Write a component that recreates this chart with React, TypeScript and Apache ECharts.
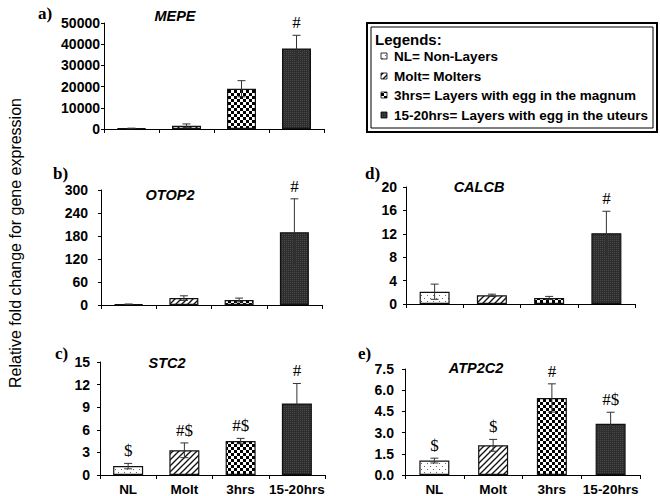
import React, { useEffect, useRef } from 'react';
import * as echarts from 'echarts';

const categories = ['NL', 'Molt', '3hrs', '15-20hrs'];

const mepeMean = [300, 1500, 19000, 38000];
const mepeErr = [100, 900, 3800, 6200];
const mepeMarks = ['', '', '', '#'];

const otop2Mean = [2, 18, 13, 190];
const otop2Err = [0.5, 6, 5, 87];
const otop2Marks = ['', '', '', '#'];

const calcbMean = [2.1, 1.48, 1.03, 12.1];
const calcbErr = [1.3, 0.2, 0.27, 3.75];
const calcbMarks = ['', '', '', '#'];

const stc2Mean = [1.18, 3.28, 4.5, 9.5];
const stc2Err = [0.36, 0.98, 0.36, 2.65];
const stc2Marks = ['$', '#$', '#$', '#'];

const atp2c2Mean = [1.02, 2.1, 5.45, 3.62];
const atp2c2Err = [0.17, 0.42, 1.0, 0.82];
const atp2c2Marks = ['$', '$', '#', '#$'];

const legendLabels = [
  'NL= Non-Layers',
  'Molt= Molters',
  '3hrs= Layers with egg in the magnum',
  '15-20hrs= Layers with egg in the uteurs',
];

const yTitle = 'Relative fold change for gene expression';

const SANS = '"Liberation Sans", Arial, sans-serif';
const SERIF = '"Liberation Serif", "Times New Roman", serif';

function makeTile(size: number, draw: (ctx: CanvasRenderingContext2D) => void) {
  const c = document.createElement('canvas');
  c.width = size;
  c.height = size;
  const ctx = c.getContext('2d') as CanvasRenderingContext2D;
  draw(ctx);
  return c;
}

function makePatterns() {
  const dots = makeTile(6, (ctx) => {
    ctx.fillStyle = '#ffffff';
    ctx.fillRect(0, 0, 6, 6);
    ctx.fillStyle = '#666666';
    ctx.fillRect(1, 1, 1, 1);
    ctx.fillRect(4, 4, 1, 1);
  });
  const hatch = makeTile(6, (ctx) => {
    ctx.fillStyle = '#ffffff';
    ctx.fillRect(0, 0, 6, 6);
    ctx.strokeStyle = '#111111';
    ctx.lineWidth = 1.3;
    for (const o of [-6, 0, 6]) {
      ctx.beginPath();
      ctx.moveTo(o - 1, 7);
      ctx.lineTo(o + 7, -1);
      ctx.stroke();
    }
  });
  const checker = makeTile(6, (ctx) => {
    ctx.fillStyle = '#ffffff';
    ctx.fillRect(0, 0, 6, 6);
    ctx.fillStyle = '#000000';
    ctx.fillRect(0, 0, 3, 3);
    ctx.fillRect(3, 3, 3, 3);
  });
  const dark = makeTile(2, (ctx) => {
    ctx.fillStyle = '#2e2e2e';
    ctx.fillRect(0, 0, 2, 2);
    ctx.fillStyle = '#4a4a4a';
    ctx.fillRect(0, 0, 1, 1);
  });
  return [dots, hatch, checker, dark].map((img) => ({
    image: img,
    repeat: 'repeat',
    imageWidth: img.width,
    imageHeight: img.height,
  }));
}

export default function App() {
  const ref = useRef<HTMLDivElement>(null);

  useEffect(() => {
    if (!ref.current) return;
    const chart = echarts.init(ref.current, undefined, { renderer: 'svg' });
    const patterns = makePatterns();

    const panels = [
      { label: 'a)', gene: 'MEPE', mean: mepeMean, err: mepeErr, marks: mepeMarks, max: 50000, interval: 10000, decimals: 0,
        grid: { left: 104, top: 23, width: 220, height: 106 }, margin: 4, showX: false, labelPos: [38, 14], titlePos: [175, 16], barWidth: 29 },
      { label: 'b)', gene: 'OTOP2', mean: otop2Mean, err: otop2Err, marks: otop2Marks, max: 300, interval: 60, decimals: 0,
        grid: { left: 101, top: 190, width: 221, height: 115 }, margin: 13, showX: false, labelPos: [53, 174], titlePos: [170, 195], barWidth: 29 },
      { label: 'c)', gene: 'STC2', mean: stc2Mean, err: stc2Err, marks: stc2Marks, max: 15, interval: 3, decimals: 0,
        grid: { left: 100, top: 362, width: 225, height: 115 }, margin: 10, showX: true, labelPos: [55, 354], titlePos: [167, 363], barWidth: 30 },
      { label: 'd)', gene: 'CALCB', mean: calcbMean, err: calcbErr, marks: calcbMarks, max: 20, interval: 4, decimals: 0,
        grid: { left: 406, top: 187, width: 229, height: 117 }, margin: 9, showX: false, labelPos: [365, 174], titlePos: [479, 187], barWidth: 30 },
      { label: 'e)', gene: 'ATP2C2', mean: atp2c2Mean, err: atp2c2Err, marks: atp2c2Marks, max: 7.5, interval: 1.5, decimals: 1,
        grid: { left: 405, top: 369, width: 235, height: 107 }, margin: 11, showX: true, labelPos: [358, 354], titlePos: [476, 368], barWidth: 30 },
    ];

    const grid: any[] = [];
    const xAxis: any[] = [];
    const yAxis: any[] = [];
    const series: any[] = [];
    const graphics: any[] = [];

    panels.forEach((p, i) => {
      grid.push({ ...p.grid, containLabel: false });
      xAxis.push({
        type: 'category',
        gridIndex: i,
        data: categories,
        axisLine: { show: true, lineStyle: { color: '#000', width: 1 } },
        axisTick: { show: true, length: 4, interval: 0, lineStyle: { color: '#000' } },
        axisLabel: {
          show: p.showX,
          interval: 0,
          color: '#000',
          fontFamily: SANS,
          fontWeight: 'bold',
          fontSize: 13.5,
          margin: 7,
        },
        splitLine: { show: false },
      });
      yAxis.push({
        type: 'value',
        gridIndex: i,
        min: 0,
        max: p.max,
        interval: p.interval,
        axisLine: { show: true, lineStyle: { color: '#000', width: 1 } },
        axisTick: { show: true, length: 3, lineStyle: { color: '#000' } },
        splitLine: { show: false },
        axisLabel: {
          color: '#000',
          fontFamily: SANS,
          fontWeight: 'bold',
          fontSize: 14,
          margin: p.margin,
          formatter: (v: number) => v.toFixed(p.decimals),
        },
      });
      series.push({
        type: 'bar',
        xAxisIndex: i,
        yAxisIndex: i,
        barWidth: p.barWidth,
        data: p.mean.map((v, j) => ({ value: v, itemStyle: { color: patterns[j] } })),
        itemStyle: { borderColor: '#111', borderWidth: 1.2 },
        emphasis: { disabled: true },
        z: 2,
      });
      series.push({
        type: 'custom',
        xAxisIndex: i,
        yAxisIndex: i,
        z: 5,
        silent: true,
        data: p.mean.map((m, j) => [j, m, p.err[j]]),
        encode: { x: 0, y: 1 },
        renderItem: (params: any, api: any) => {
          const j = api.value(0);
          const m = api.value(1);
          const e = api.value(2);
          const top = api.coord([j, m + e]);
          const low = api.coord([j, Math.max(0, m - e)]);
          const x = top[0];
          const children: any[] = [
            { type: 'line', shape: { x1: x, y1: top[1], x2: x, y2: low[1] }, style: { stroke: '#333', lineWidth: 1 } },
            { type: 'line', shape: { x1: x - 4, y1: top[1], x2: x + 4, y2: top[1] }, style: { stroke: '#333', lineWidth: 1 } },
            { type: 'line', shape: { x1: x - 4, y1: low[1], x2: x + 4, y2: low[1] }, style: { stroke: '#333', lineWidth: 1 } },
          ];
          const mark = p.marks[params.dataIndex];
          if (mark) {
            children.push({
              type: 'text',
              x: x,
              y: top[1] - 4,
              style: {
                text: mark,
                fill: '#000',
                fontFamily: SERIF,
                fontSize: 17,
                align: 'center',
                verticalAlign: 'bottom',
                textAlign: 'center',
                textVerticalAlign: 'bottom',
              },
            });
          }
          return { type: 'group', children };
        },
      });
      graphics.push({
        type: 'text',
        left: p.labelPos[0],
        top: p.labelPos[1] - 9,
        style: { text: p.label, fill: '#000', fontFamily: SERIF, fontWeight: 'bold', fontSize: 17 },
      });
      graphics.push({
        type: 'text',
        x: p.titlePos[0],
        y: p.titlePos[1],
        style: {
          text: p.gene,
          fill: '#000',
          fontFamily: SANS,
          fontWeight: 'bold',
          fontStyle: 'italic',
          fontSize: 14.5,
          align: 'center',
          verticalAlign: 'middle',
        },
      });
    });

    // y-axis title
    graphics.push({
      type: 'text',
      x: 15,
      y: 243,
      rotation: Math.PI / 2,
      style: {
        text: yTitle,
        fill: '#000',
        fontFamily: SANS,
        fontSize: 16,
        align: 'center',
        verticalAlign: 'middle',
      },
    });

    // legend box
    const legendChildren: any[] = [
      { type: 'rect', shape: { x: 367, y: 23, width: 290, height: 109 }, style: { fill: '#fff', stroke: '#000', lineWidth: 2 } },
      { type: 'rect', shape: { x: 371, y: 27, width: 282, height: 101 }, style: { fill: 'none', stroke: '#000', lineWidth: 1 } },
      {
        type: 'text',
        x: 375,
        y: 39,
        style: { text: 'Legends:', fill: '#000', fontFamily: SANS, fontWeight: 'bold', fontSize: 15, verticalAlign: 'middle' },
      },
    ];
    const rowY = [56, 76, 95, 115];
    legendLabels.forEach((t, j) => {
      legendChildren.push({
        type: 'rect',
        shape: { x: 381, y: rowY[j] - 3, width: 6, height: 6 },
        style: { fill: patterns[j], stroke: '#000', lineWidth: 0.8 },
      });
      legendChildren.push({
        type: 'text',
        x: 394,
        y: rowY[j],
        style: { text: t, fill: '#000', fontFamily: SANS, fontWeight: 'bold', fontSize: 13.5, verticalAlign: 'middle' },
      });
    });
    graphics.push({ type: 'group', children: legendChildren });

    chart.setOption({
      animation: false,
      backgroundColor: '#fff',
      grid,
      xAxis,
      yAxis,
      series,
      graphic: graphics,
    });

    return () => {
      chart.dispose();
    };
  }, []);

  return (
    <div
      ref={ref}
      style={{ position: 'fixed', left: 0, top: 0, width: 660, height: 496, background: '#fff' }}
    />
  );
}
